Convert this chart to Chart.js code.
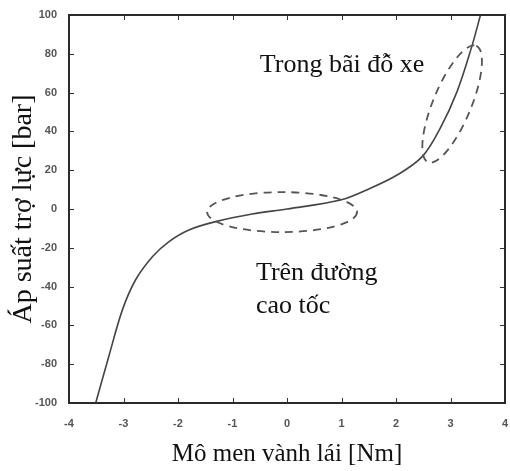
<!DOCTYPE html>
<html>
<head>
<meta charset="utf-8">
<script src="https://cdn.jsdelivr.net/npm/chart.js@4.4.1/dist/chart.umd.min.js"></script>
<style>
  html, body { margin: 0; padding: 0; background: #fff; }
  #wrap { width: 510px; height: 471px; }
</style>
</head>
<body>
<div id="wrap"><canvas id="chart" width="510" height="471"></canvas></div>
<script>
// Mô men vành lái [Nm] -> Áp suất trợ lực [bar]
const torque   = [-3.51, -3.27, -3.02, -2.78, -2.47, -2.17, -1.80, -1.31, -0.64, 0, 0.98, 1.53, 2.02, 2.48, 2.81, 3.12, 3.39, 3.55];
const pressure = [-100, -76, -52, -36.6, -24.6, -16.9, -10.8, -6.5, -2.6, 0, 4.6, 10.7, 17.5, 27, 41.6, 60.5, 83.7, 100];

const xTicks = [-4, -3, -2, -1, 0, 1, 2, 3, 4];
const yTicks = [-100, -80, -60, -40, -20, 0, 20, 40, 60, 80, 100];

const xTitle = 'Mô men vành lái [Nm]';
const yTitle = 'Áp suất trợ lực [bar]';

// chú thích trên hình (tâm theo đơn vị dữ liệu)
const ellipseNotes = [
    { x: -0.09, y: -1.6, rx: 75, ry: 20, angle: 0 },
    { x: 3.03, y: 54.1, rx: 63, ry: 19, angle: -67.5 }
];
const textNotes = [
    { x: -0.5, y: 70.6, text: 'Trong bãi đỗ xe' },
    { x: -0.57, y: -36.6, text: 'Trên đường' },
    { x: -0.57, y: -53.6, text: 'cao tốc' }
];

const points = torque.map((t, i) => ({ x: t, y: pressure[i] }));

// khung + vạch chia hướng vào trong (kiểu MATLAB)
const framePlugin = {
    id: 'frame',
    afterDraw(chart) {
        const { ctx, chartArea: a, scales } = chart;
        ctx.save();
        ctx.strokeStyle = '#333';
        ctx.lineWidth = 1;
        const len = 5;
        ctx.beginPath();
        xTicks.forEach(v => {
            const px = Math.round(scales.x.getPixelForValue(v)) + 0.5;
            ctx.moveTo(px, a.bottom); ctx.lineTo(px, a.bottom - len);
            ctx.moveTo(px, a.top); ctx.lineTo(px, a.top + len);
        });
        yTicks.forEach(v => {
            const py = Math.round(scales.y.getPixelForValue(v)) + 0.5;
            ctx.moveTo(a.left, py); ctx.lineTo(a.left + len, py);
            ctx.moveTo(a.right, py); ctx.lineTo(a.right - len, py);
        });
        ctx.stroke();
        ctx.lineWidth = 2;
        ctx.strokeStyle = '#2a2a2a';
        ctx.strokeRect(a.left, a.top, a.right - a.left, a.bottom - a.top);
        ctx.restore();
    }
};

const notesPlugin = {
    id: 'notes',
    afterDatasetsDraw(chart) {
        const { ctx, scales } = chart;
        ctx.save();
        ctx.strokeStyle = '#555';
        ctx.lineWidth = 1.8;
        ctx.setLineDash([8, 6]);
        ellipseNotes.forEach(e => {
            const cx = scales.x.getPixelForValue(e.x);
            const cy = scales.y.getPixelForValue(e.y);
            ctx.beginPath();
            ctx.ellipse(cx, cy, e.rx, e.ry, e.angle * Math.PI / 180, 0, Math.PI * 2);
            ctx.stroke();
        });
        ctx.setLineDash([]);
        ctx.fillStyle = '#111';
        ctx.font = '26px "Liberation Serif", "DejaVu Serif", serif';
        ctx.textAlign = 'left';
        ctx.textBaseline = 'alphabetic';
        textNotes.forEach(t => {
            ctx.fillText(t.text, scales.x.getPixelForValue(t.x), scales.y.getPixelForValue(t.y));
        });
        ctx.restore();
    }
};

new Chart(document.getElementById('chart'), {
    type: 'line',
    data: {
        datasets: [{
            data: points,
            borderColor: '#444',
            borderWidth: 1.6,
            pointRadius: 0,
            fill: false,
            tension: 0.35
        }]
    },
    options: {
        responsive: false,
        animation: false,
        layout: { padding: { left: 0, right: 0, top: 15, bottom: 0 } },
        plugins: { legend: { display: false }, tooltip: { enabled: false } },
        scales: {
            x: {
                type: 'linear',
                min: -4, max: 4,
                afterBuildTicks: s => { s.ticks = xTicks.map(v => ({ value: v })); },
                afterFit: s => { s.height = 68; s.paddingLeft = 0; s.paddingRight = 5; },
                grid: { display: false },
                border: { display: false },
                ticks: {
                    padding: 6,
                    color: '#555',
                    font: { family: '"Liberation Sans", Arial, sans-serif', size: 11, weight: 'bold' },
                    maxRotation: 0
                },
                title: {
                    display: true,
                    text: xTitle,
                    color: '#111',
                    padding: { top: 0, bottom: 2 },
                    font: { family: '"Liberation Serif", "DejaVu Serif", serif', size: 25, weight: 'normal' }
                }
            },
            y: {
                min: -100, max: 100,
                afterBuildTicks: s => { s.ticks = yTicks.map(v => ({ value: v })); },
                afterFit: s => { s.width = 69; s.paddingTop = 0; s.paddingBottom = 0; },
                grid: { display: false },
                border: { display: false },
                ticks: {
                    padding: 4,
                    color: '#555',
                    font: { family: '"Liberation Sans", Arial, sans-serif', size: 11, weight: 'bold' }
                },
                title: {
                    display: true,
                    text: yTitle,
                    color: '#111',
                    padding: { top: 7, bottom: 0 },
                    font: { family: '"Liberation Serif", "DejaVu Serif", serif', size: 28, weight: 'normal' }
                }
            }
        }
    },
    plugins: [framePlugin, notesPlugin]
});
</script>
</body>
</html>
